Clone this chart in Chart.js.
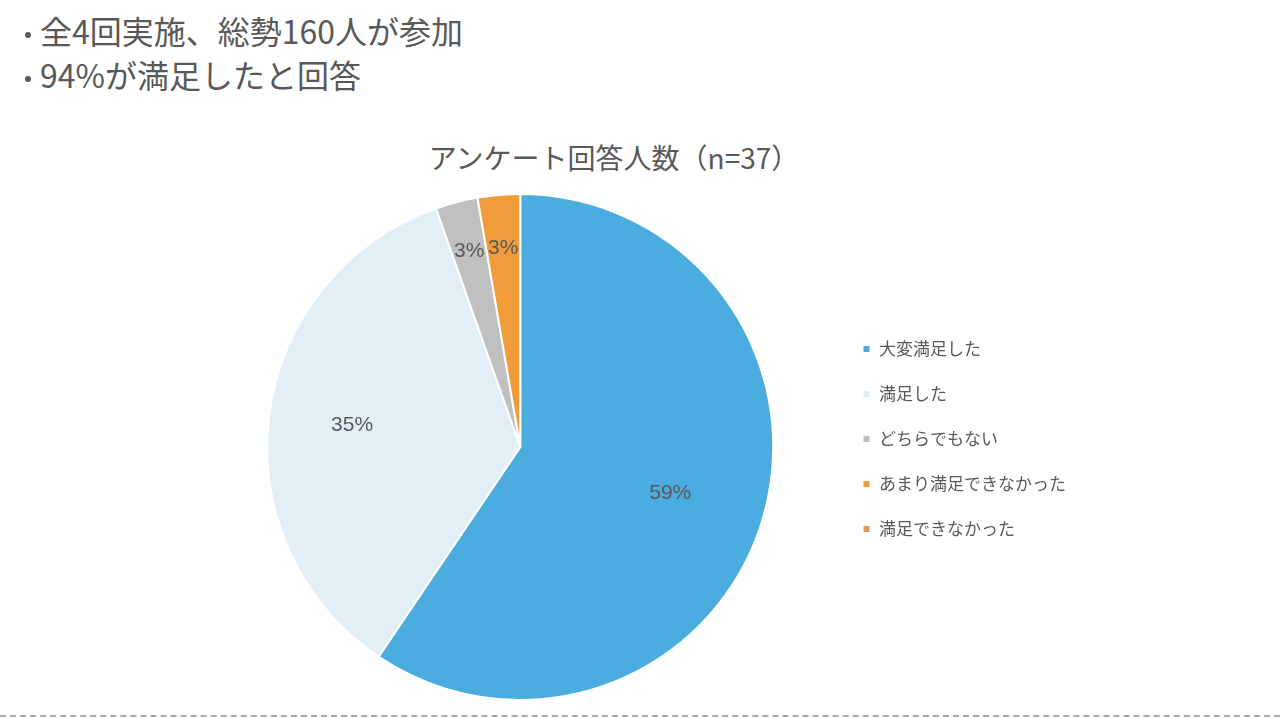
<!DOCTYPE html>
<html lang="ja">
<head>
<meta charset="utf-8">
<script src="https://cdn.jsdelivr.net/npm/chart.js@4.4.1/dist/chart.umd.min.js"></script>
<style>
  html, body { margin: 0; padding: 0; background: #fff; }
  body { width: 1280px; height: 718px; position: relative; overflow: hidden;
         font-family: "Noto Sans CJK JP", "Noto Sans", sans-serif; color: #595959; }
  .bullets { position: absolute; left: 40px; top: 8px; font-size: 32px; line-height: 44px; }
  .bullets div { position: relative; }
  .bullets div::before { content: ''; position: absolute; left: -15px; top: 24px; width: 6px; height: 6px;
                         border-radius: 50%; background: #595959; }
  .chart-title { position: absolute; left: 314px; width: 600px; top: 136px; text-align: center;
                 font-size: 28px; line-height: 42px; }
  .wrap { position: absolute; left: 150px; top: 190px; width: 926px; height: 518px; }
  .dash { position: absolute; left: 0; right: 0; top: 715px; border-top: 2px dashed #a9a9a9; }
</style>
</head>
<body>
<div class="bullets">
  <div>全4回実施、総勢160人が参加</div>
  <div>94%が満足したと回答</div>
</div>
<div class="chart-title">アンケート回答人数（n=37）</div>
<div class="wrap"><canvas id="pieChart"></canvas></div>
<div class="dash"></div>
<script>
// Survey data (n=37)
const categories = ['大変満足した', '満足した', 'どちらでもない', 'あまり満足できなかった', '満足できなかった'];
const counts = [22, 13, 1, 1, 0];
const colors = ['#4BACDF', '#E2EFF7', '#BEC0C2', '#F19C3A', '#E8955A'];
const labelRadius = [0.62, 0.67, 0.8, 0.79, 0.8];

const total = counts.reduce((a, b) => a + b, 0);

// Percent labels inside slices
const sliceLabels = {
  id: 'sliceLabels',
  afterDatasetsDraw(chart) {
    const ctx = chart.ctx;
    const meta = chart.getDatasetMeta(0);
    ctx.save();
    ctx.fillStyle = '#595959';
    ctx.font = '21px "Liberation Sans", Arial, sans-serif';
    ctx.textAlign = 'center';
    ctx.textBaseline = 'middle';
    meta.data.forEach((arc, i) => {
      if (!counts[i]) return;
      const { x, y, startAngle, endAngle, outerRadius } = arc.getProps(['x', 'y', 'startAngle', 'endAngle', 'outerRadius'], true);
      const mid = (startAngle + endAngle) / 2;
      const r = outerRadius * labelRadius[i];
      const pct = Math.round(counts[i] / total * 100) + '%';
      ctx.fillText(pct, x + Math.cos(mid) * r, y + Math.sin(mid) * r);
    });
    ctx.restore();
  }
};

new Chart(document.getElementById('pieChart'), {
  type: 'pie',
  data: {
    labels: categories,
    datasets: [{ data: counts, backgroundColor: colors, borderColor: '#fff', borderWidth: 2 }]
  },
  options: {
    responsive: true,
    maintainAspectRatio: false,
    animation: false,
    layout: { padding: { left: 56, top: 3, bottom: 7, right: 0 } },
    plugins: {
      tooltip: { enabled: false },
      legend: {
        position: 'right',
        align: 'start',
        title: { display: true, text: '', padding: { top: 105, bottom: 0 } },
        labels: {
          color: '#595959',
          boxWidth: 8,
          boxHeight: 8,
          padding: 28,
          font: { family: '"Noto Sans CJK JP"', size: 17 }
        }
      }
    }
  },
  plugins: [sliceLabels]
});
</script>
</body>
</html>
